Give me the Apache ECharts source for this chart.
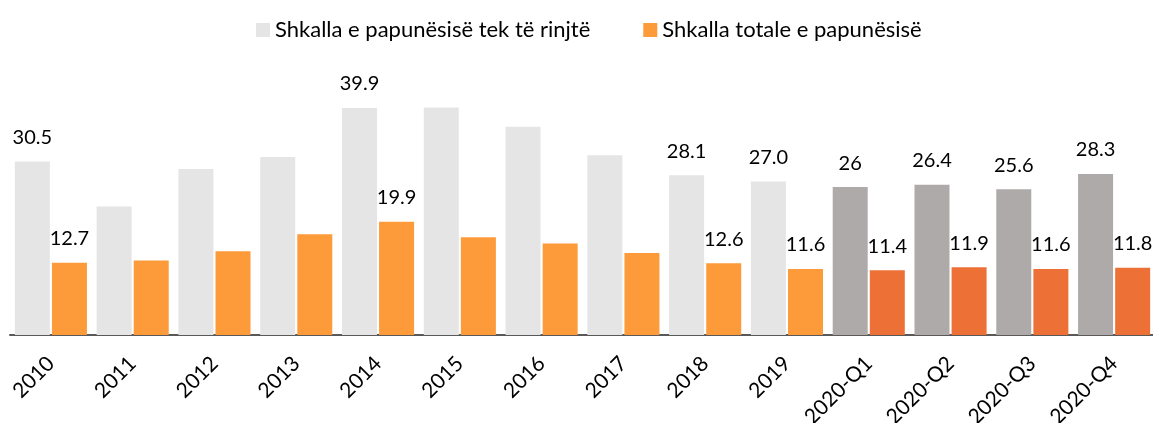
<!DOCTYPE html>
<html>
<head>
<meta charset="utf-8">
<script src="https://cdn.jsdelivr.net/npm/echarts@6/dist/echarts.min.js"></script>
<style>
html,body{margin:0;padding:0;background:#fff;}
#chart{width:1153px;height:423px;}
</style>
</head>
<body>
<div id="chart"></div>
<script>
var categories = ['2010','2011','2012','2013','2014','2015','2016','2017','2018','2019','2020-Q1','2020-Q2','2020-Q3','2020-Q4'];
var youthRate = [30.5, 22.6, 29.2, 31.3, 39.9, 40.0, 36.6, 31.6, 28.1, 27.0, 26, 26.4, 25.6, 28.3];
var totalRate = [12.7, 13.1, 14.7, 17.7, 19.9, 17.2, 16.1, 14.4, 12.6, 11.6, 11.4, 11.9, 11.6, 11.8];
var youthLabels = ['30.5','','','','39.9','','','','28.1','27.0','26','26.4','25.6','28.3'];
var totalLabels = ['12.7','','','','19.9','','','','12.6','11.6','11.4','11.9','11.6','11.8'];
var quarterIdx = [10, 11, 12, 13];
var seriesNames = ['Shkalla e papunësisë tek të rinjtë', 'Shkalla totale e papunësisë'];

var FONT = 'Lato, "Open Sans", sans-serif';
var colors = {
  youth: '#e5e5e5', youthQ: '#aeaaaa',
  total: '#fd9a3a', totalQ: '#ed7137'
};

function buildData(values, labels, baseColor, qColor) {
  return values.map(function (v, i) {
    var isQ = quarterIdx.indexOf(i) >= 0;
    return {
      value: v,
      itemStyle: { color: isQ ? qColor : baseColor },
      label: { show: labels[i] !== '', formatter: labels[i] }
    };
  });
}

var labelStyle = {
  position: 'top',
  distance: 14,
  fontFamily: FONT,
  fontSize: 20,
  color: '#000'
};

var chart = echarts.init(document.getElementById('chart'), null, { renderer: 'canvas' });
chart.setOption({
  animation: false,
  backgroundColor: '#ffffff',
  textStyle: { fontFamily: FONT },
  legend: {
    top: 14,
    left: 251,
    itemWidth: 14,
    itemHeight: 14,
    itemGap: 53,
    icon: 'rect',
    textStyle: { fontFamily: FONT, fontSize: 22, color: '#000' },
    data: seriesNames
  },
  grid: { left: 10, right: -2, top: 79, bottom: 88, containLabel: false, outerBoundsMode: 'none' },
  xAxis: {
    type: 'category',
    data: categories,
    axisLine: { lineStyle: { color: '#595959', width: 2 } },
    axisTick: { show: false },
    axisLabel: {
      interval: 0,
      rotate: 45,
      margin: 25,
      fontFamily: FONT,
      fontSize: 21,
      color: '#000'
    }
  },
  yAxis: {
    type: 'value',
    min: 0,
    max: 45,
    show: false,
    splitLine: { show: false }
  },
  series: [
    {
      name: seriesNames[0],
      type: 'bar',
      barWidth: 35,
      barGap: '6%',
      itemStyle: { color: colors.youth },
      label: labelStyle,
      data: buildData(youthRate, youthLabels, colors.youth, colors.youthQ)
    },
    {
      name: seriesNames[1],
      type: 'bar',
      barWidth: 35,
      barGap: '6%',
      itemStyle: { color: colors.total },
      label: labelStyle,
      data: buildData(totalRate, totalLabels, colors.total, colors.totalQ)
    }
  ]
});
</script>
</body>
</html>
